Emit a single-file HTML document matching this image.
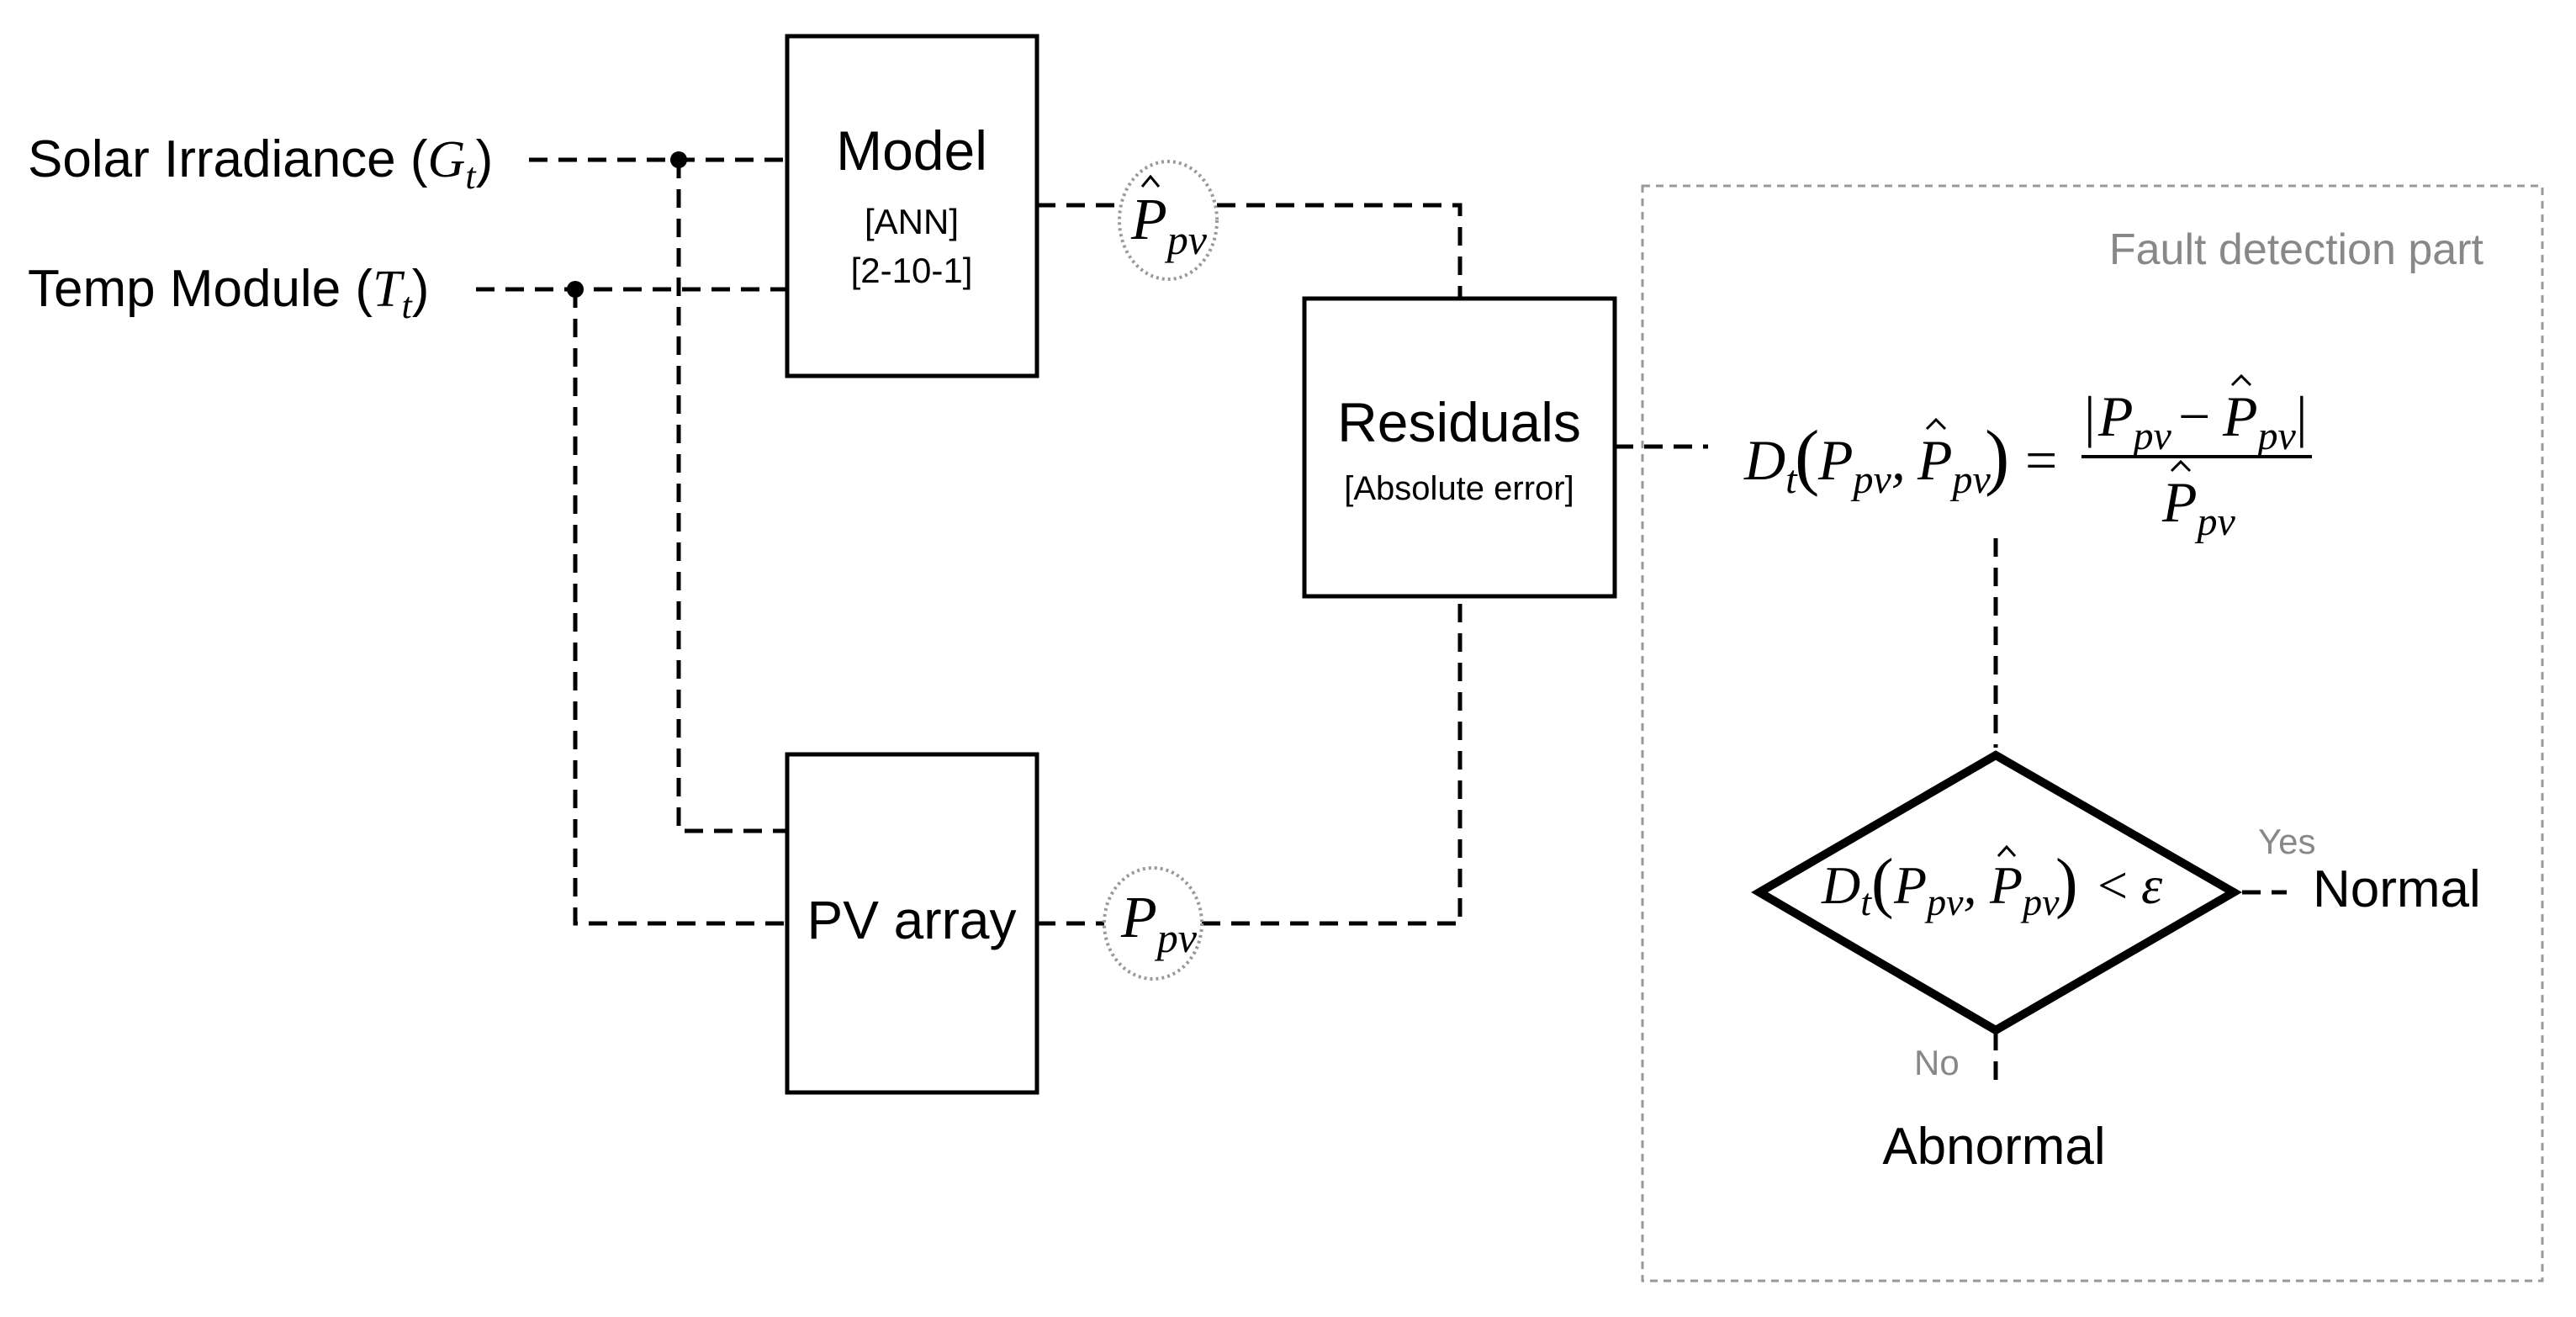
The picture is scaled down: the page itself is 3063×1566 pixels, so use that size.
<!DOCTYPE html>
<html><head><meta charset="utf-8"><style>
html,body{margin:0;padding:0;background:#fff}
svg{display:block}
.s{font-family:"Liberation Sans Narrow","Liberation Sans",sans-serif}
.m{font-family:"Liberation Serif",serif;font-style:italic}
.n{font-family:"Liberation Serif",serif;font-style:normal}
</style></head><body>
<svg width="3063" height="1566" viewBox="0 0 3063 1566" xmlns="http://www.w3.org/2000/svg">
<rect width="3063" height="1566" fill="#fff"/>
<rect x="1953" y="221" width="1070" height="1302" fill="none" stroke="#999" stroke-width="3" stroke-dasharray="9,7"/>
<text x="2953" y="314" text-anchor="end" class="s" font-size="52" fill="#888">Fault detection part</text>

<g stroke="#000" stroke-width="5" fill="none" stroke-dasharray="22,13">
<path d="M629 190 H936"/>
<path d="M566 344 H936"/>
<path d="M807 190 V988 H936"/>
<path d="M684 344 V1098 H936"/>
<path d="M1233 244 H1331 M1447 244 H1736 V355"/>
<path d="M1233 1098 H1313 M1429 1098 H1736 V709"/>
<path d="M1920 531 H2031"/>
<path d="M2373 640 V889"/>
<path d="M2666 1061 H2719"/>
<path d="M2373 1227 V1292"/>
</g>
<circle cx="807" cy="190" r="10" fill="#000"/>
<circle cx="684" cy="344" r="10" fill="#000"/>

<g fill="#fff" stroke="#000" stroke-width="5">
<rect x="936" y="43" width="297" height="404"/>
<rect x="936" y="897" width="297" height="402"/>
<rect x="1551" y="355" width="369" height="354"/>
</g>
<ellipse cx="1389" cy="262" rx="58" ry="70" fill="#fff" stroke="#999" stroke-width="4" stroke-dasharray="3,4"/>
<ellipse cx="1371" cy="1098" rx="58" ry="66" fill="#fff" stroke="#999" stroke-width="4" stroke-dasharray="3,4"/>
<polygon points="2373,898 2656,1061 2373,1225 2092,1061" fill="#fff" stroke="#000" stroke-width="10" stroke-linejoin="miter"/>

<text x="33" y="210" class="s" font-size="62">Solar Irradiance (<tspan class="m">G</tspan><tspan class="m" font-size="44" dy="14">t</tspan><tspan dy="-14">)</tspan></text>
<text x="33" y="364" class="s" font-size="62">Temp Module (<tspan class="m">T</tspan><tspan class="m" font-size="44" dy="14">t</tspan><tspan dy="-14">)</tspan></text>
<text x="1084" y="202" text-anchor="middle" class="s" font-size="66">Model</text>
<text x="1084" y="278" text-anchor="middle" class="s" font-size="42">[ANN]</text>
<text x="1084" y="336" text-anchor="middle" class="s" font-size="42">[2-10-1]</text>
<text x="1084" y="1116" text-anchor="middle" class="s" font-size="64">PV array</text>
<text x="1735" y="525" text-anchor="middle" class="s" font-size="66">Residuals</text>
<text x="1735" y="594" text-anchor="middle" class="s" font-size="40">[Absolute error]</text>

<text x="1345" y="284" class="m" font-size="70">P<tspan font-size="50" dy="18">pv</tspan></text>
<path d="M1358 222 L1368 210 L1378 222" fill="none" stroke="#000" stroke-width="3"/>
<text x="1333" y="1114" class="m" font-size="70">P<tspan font-size="50" dy="18">pv</tspan></text>

<!-- main formula -->
<text x="2074" y="570" class="m" font-size="68">D<tspan font-size="48" dy="16">t</tspan></text>
<text x="2134" y="572" class="n" font-size="88">(</text>
<text x="2162" y="570" class="m" font-size="68">P<tspan font-size="48" dy="16">pv</tspan><tspan dy="-16">,</tspan></text>
<text x="2280" y="570" class="m" font-size="68">P<tspan font-size="48" dy="16">pv</tspan></text>
<path d="M2291 510 L2302 499 L2313 510" fill="none" stroke="#000" stroke-width="3"/>
<text x="2360" y="572" class="n" font-size="88">)</text>
<text x="2408" y="570" class="n" font-size="68">=</text>

<text x="2478" y="518" class="n" font-size="68">|</text>
<text x="2495" y="518" class="m" font-size="68">P<tspan font-size="48" dy="16">pv</tspan></text>
<text x="2590" y="518" class="n" font-size="68">−</text>
<text x="2643" y="518" class="m" font-size="68">P<tspan font-size="48" dy="16">pv</tspan></text>
<path d="M2654 458 L2665 447 L2676 458" fill="none" stroke="#000" stroke-width="3"/>
<text x="2730" y="518" class="n" font-size="68">|</text>
<line x1="2475" y1="543" x2="2749" y2="543" stroke="#000" stroke-width="4"/>
<text x="2571" y="620" class="m" font-size="68">P<tspan font-size="48" dy="16">pv</tspan></text>
<path d="M2582 560 L2593 549 L2604 560" fill="none" stroke="#000" stroke-width="3"/>

<!-- diamond formula -->
<text x="2166" y="1074" class="m" font-size="64">D<tspan font-size="46" dy="14">t</tspan></text>
<text x="2225" y="1076" class="n" font-size="80">(</text>
<text x="2252" y="1074" class="m" font-size="64">P<tspan font-size="46" dy="14">pv</tspan><tspan dy="-14">,</tspan></text>
<text x="2366" y="1074" class="m" font-size="64">P<tspan font-size="46" dy="14">pv</tspan></text>
<path d="M2376 1018 L2386 1007 L2396 1018" fill="none" stroke="#000" stroke-width="3"/>
<text x="2444" y="1076" class="n" font-size="80">)</text>
<text x="2494" y="1074" class="n" font-size="64">&lt;</text>
<text x="2546" y="1074" class="m" font-size="64">ε</text>

<text x="2685" y="1015" class="s" font-size="42" fill="#888">Yes</text>
<text x="2750" y="1078" class="s" font-size="62">Normal</text>
<text x="2276" y="1278" class="s" font-size="42" fill="#888">No</text>
<text x="2371" y="1384" text-anchor="middle" class="s" font-size="62">Abnormal</text>
</svg>
</body></html>
